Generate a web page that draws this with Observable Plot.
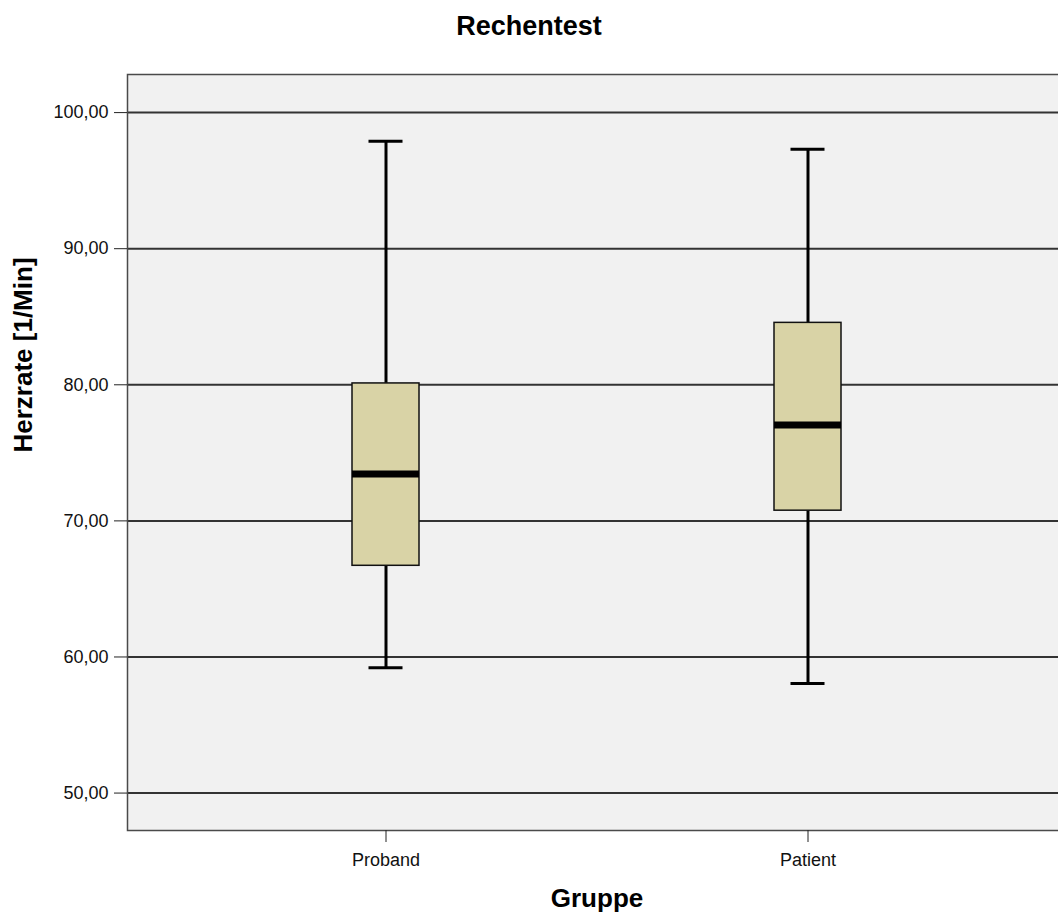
<!DOCTYPE html>
<html>
<head>
<meta charset="utf-8">
<script src="https://cdn.jsdelivr.net/npm/d3@7"></script>
<script src="https://cdn.jsdelivr.net/npm/@observablehq/plot@0.6"></script>
<style>
  html, body { margin: 0; padding: 0; background: #fff; overflow: hidden; }
  #title {
    width: 1058px;
    height: 27px;
    padding: 13px 0 10px 0;
    line-height: 27px;
    text-align: center;
    font-family: "Liberation Sans", Arial, sans-serif;
    font-weight: bold;
    font-size: 27px;
    color: #000;
  }
</style>
</head>
<body>
<div id="title">Rechentest</div>
<div id="chart"></div>
<script>
// Heart rate during the arithmetic test, by group (boxplot summaries)
const groups = ["Proband", "Patient"];
const whiskerLow = [59.2, 58.05];
const quartile1 = [66.7, 70.75];
const medians = [73.45, 77.05];
const quartile3 = [80.1, 84.55];
const whiskerHigh = [97.9, 97.3];
const yTicks = [50, 60, 70, 80, 90, 100];

const stats = groups.map((g, i) => ({
  group: g,
  lo: whiskerLow[i],
  q1: quartile1[i],
  med: medians[i],
  q3: quartile3[i],
  hi: whiskerHigh[i]
}));

const fmt = d => d.toFixed(2).replace(".", ",");

const chart = Plot.plot({
  width: 1066,
  height: 862,
  marginLeft: 127,
  marginRight: 0,
  marginTop: 24,
  marginBottom: 82,
  style: {
    fontFamily: "'Liberation Sans', Arial, sans-serif",
    fontSize: "18px",
    color: "#111",
    background: "#fff",
    maxWidth: "none"
  },
  x: { type: "band", domain: groups, paddingInner: 0.842, paddingOuter: 0.531, axis: null },
  y: { domain: [47.25, 102.8], axis: null },
  marks: [
    Plot.frame({ fill: "#f1f1f1", stroke: null }),
    Plot.ruleY(yTicks, { stroke: "#333", strokeWidth: 2 }),
    // whiskers
    Plot.ruleX(stats, { x: "group", y1: "lo", y2: "q1", stroke: "#000", strokeWidth: 3 }),
    Plot.ruleX(stats, { x: "group", y1: "q3", y2: "hi", stroke: "#000", strokeWidth: 3 }),
    Plot.tickY(stats, { x: "group", y: "lo", stroke: "#000", strokeWidth: 3, insetLeft: 16.5, insetRight: 16.5 }),
    Plot.tickY(stats, { x: "group", y: "hi", stroke: "#000", strokeWidth: 3, insetLeft: 16.5, insetRight: 16.5 }),
    // boxes and medians
    Plot.barY(stats, { x: "group", y1: "q1", y2: "q3", fill: "#d9d3a6", stroke: "#111", strokeWidth: 1.5 }),
    Plot.tickY(stats, { x: "group", y: "med", stroke: "#000", strokeWidth: 7 }),
    Plot.frame({ stroke: "#4a4a4a", strokeWidth: 1.5 }),
    // axes
    Plot.axisY({ ticks: yTicks, tickFormat: fmt, tickSize: 13, tickPadding: 6, fontSize: 18, label: null, stroke: "#222" }),
    Plot.axisX({ tickSize: 12, tickPadding: 11, fontSize: 18, label: null, stroke: "#222" }),
    // axis titles
    Plot.text(["Herzrate [1/Min]"], { frameAnchor: "left", dx: -104, rotate: -90, fontSize: 26, fontWeight: "bold", fill: "#000" }),
    Plot.text(["Gruppe"], { frameAnchor: "bottom", dy: 76, fontSize: 26, fontWeight: "bold", fill: "#000" })
  ]
});

document.getElementById("chart").appendChild(chart);
</script>
</body>
</html>
